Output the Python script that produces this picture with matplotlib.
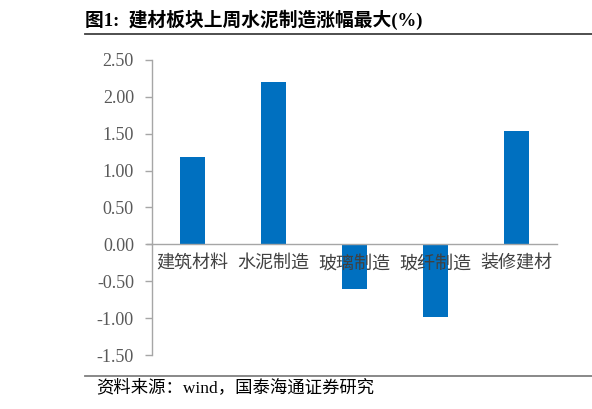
import matplotlib
matplotlib.use("Agg")
import matplotlib.pyplot as plt
from matplotlib.lines import Line2D

categories = ["建筑材料", "水泥制造", "玻璃制造", "玻纤制造", "装修建材"]
values = [1.19, 2.20, -0.61, -0.98, 1.54]
yticks = [-1.5, -1.0, -0.5, 0.0, 0.5, 1.0, 1.5, 2.0, 2.5]
title = "图1:  建材板块上周水泥制造涨幅最大(%)"
source = "资料来源：wind，国泰海通证券研究"

cjk = ["Noto Sans CJK SC", "DejaVu Sans"]
serif = ["Liberation Serif", "Noto Sans CJK SC"]

fig = plt.figure(figsize=(5.92, 4.09), dpi=100)
W, H = 592, 409
ax = fig.add_axes([152 / W, 1 - 355 / H, (557 - 152) / W, (355 - 60) / H])
ax.set_axisbelow(False)

x = list(range(len(categories)))
ax.bar(x, values, width=0.32, color="#0070C0", zorder=1)
ax.set_xlim(-0.5, len(categories) - 0.5)
ax.set_ylim(-1.5, 2.5)
ax.set_yticks(yticks)
ax.set_yticklabels([f"{v:.2f}" for v in yticks], family=serif, fontsize=13, color="#595959")
ax.tick_params(axis="y", direction="out", length=5, width=1, color="#A6A6A6", pad=8)

for s in ["top", "right"]:
    ax.spines[s].set_visible(False)
ax.spines["left"].set_color("#A6A6A6")
ax.spines["left"].set_linewidth(1)
ax.spines["bottom"].set_position(("data", 0))
ax.spines["bottom"].set_color("#A6A6A6")
ax.spines["bottom"].set_linewidth(1)
ax.set_xticks(x)
ax.set_xticklabels(categories, family=cjk, fontsize=13, color="#404040")
ax.tick_params(axis="x", length=0, pad=7)

# extend zero line left past spine like a tick
ax.plot([-0.5 - 0.06, -0.5], [0, 0], color="#A6A6A6", lw=1, clip_on=False)

fig.text(85 / W, 1 - 20 / H, title, family=["Liberation Serif", "Noto Sans CJK SC"],
         fontsize=13.5, fontweight="bold", va="center", ha="left", color="#000000")
fig.add_artist(Line2D([85 / W, 1], [1 - 34 / H, 1 - 34 / H], color="#404040", lw=1.3))
fig.add_artist(Line2D([85 / W, 1], [1 - 376 / H, 1 - 376 / H], color="#7F7F7F", lw=1.3))
fig.text(96 / W, 1 - 388 / H, source, family=["Liberation Serif", "Noto Sans CJK SC"],
         fontsize=12.5, va="center", ha="left", color="#000000")

fig.savefig("out.png", dpi=100)
